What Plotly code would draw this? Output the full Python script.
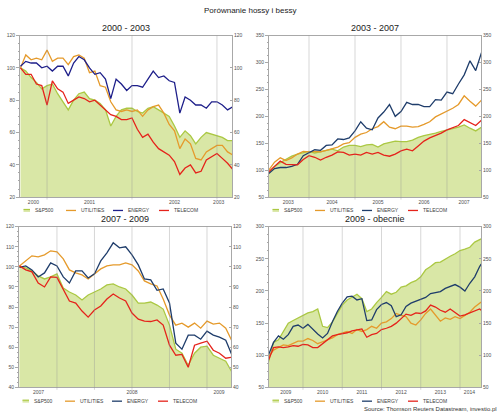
import plotly.graph_objects as go

W, H = 500, 416

MAIN_TITLE = "Porównanie hossy i bessy"
SOURCE = "Source: Thomson Reuters Datastream, investio.pl"
SERIES = ["S&P500", "UTILITIES", "ENERGY", "TELECOM"]

# ---------------- Panel 1: 2000 - 2003 ----------------
p1_title = "2000 - 2003"
p1_x = [2000.688, 2000.750, 2000.813, 2000.875, 2000.938, 2001.000, 2001.063, 2001.125,
        2001.188, 2001.250, 2001.313, 2001.375, 2001.438, 2001.500, 2001.563, 2001.625,
        2001.688, 2001.750, 2001.813, 2001.875, 2001.938, 2002.000, 2002.063, 2002.125,
        2002.188, 2002.250, 2002.313, 2002.375, 2002.438, 2002.500, 2002.563, 2002.625,
        2002.688, 2002.750, 2002.813, 2002.875, 2002.938, 2003.000, 2003.063, 2003.125,
        2003.188]
p1_sp500 = [100, 98, 94, 91, 87, 89, 90, 84, 79, 74, 80, 84, 85, 81, 80, 78, 74, 64, 70, 74,
            75, 75, 73, 72, 75, 76, 74, 72, 70, 64, 57, 61, 58, 53, 57, 60, 59, 58, 57, 55, 55]
p1_utilities = [100, 108, 105, 106, 105, 111, 104, 106, 106, 102, 107, 108, 106, 97, 98, 89,
                88, 79, 74, 73, 74, 73, 74, 70, 74, 76, 77, 72, 65, 61, 50, 56, 53, 44, 43, 48,
                50, 52, 52, 48, 46]
p1_energy = [101, 104, 103, 103, 100, 101, 98, 101, 101, 95, 103, 107, 105, 100, 96, 97, 93,
             81, 93, 90, 86, 89, 89, 88, 93, 98, 94, 95, 92, 91, 72, 82, 80, 77, 77, 75, 79,
             79, 77, 74, 76]
p1_telecom = [100, 96, 96, 90, 89, 77, 92, 87, 85, 78, 80, 82, 81, 79, 80, 77, 74, 71, 70, 68,
              68, 69, 62, 57, 59, 54, 50, 48, 46, 42, 34, 38, 40, 35, 36, 43, 45, 47, 44, 41, 37]
p1_xrange = [2000.682, 2003.177]
p1_yrange = [20, 120]
p1_ystep = 20
p1_tickvals = [2000.84, 2001.5, 2002.5, 2003.02]
p1_ticktext = ["2000", "2001", "2002", "2003"]
p1_grid = [2001, 2002, 2003]

# ---------------- Panel 2: 2003 - 2007 ----------------
p2_title = "2003 - 2007"
p2_x = [2003.125, 2003.25, 2003.375, 2003.5, 2003.625, 2003.75, 2003.875,
        2004.0, 2004.125, 2004.25, 2004.375, 2004.5, 2004.625, 2004.75, 2004.875,
        2005.0, 2005.125, 2005.25, 2005.375, 2005.5, 2005.625, 2005.75, 2005.875,
        2006.0, 2006.125, 2006.25, 2006.375, 2006.5, 2006.625, 2006.75, 2006.875,
        2007.0, 2007.125, 2007.25, 2007.375, 2007.5, 2007.625, 2007.75]
p2_sp500 = [95, 107, 114, 120, 126, 130, 133, 135, 132, 134, 136, 139, 136, 143, 146, 146, 144,
            147, 148, 143, 149, 152, 154, 153, 153, 156, 161, 164, 166, 169, 172, 174, 177, 180,
            184, 178, 173, 180]
p2_utilities = [100, 115, 123, 118, 123, 130, 135, 134, 135, 134, 137, 140, 143, 149, 151, 161,
                167, 170, 177, 181, 190, 180, 177, 182, 182, 180, 181, 185, 190, 199, 204, 210,
                215, 222, 238, 228, 219, 230]
p2_energy = [94, 103, 105, 105, 107, 111, 127, 133, 138, 137, 146, 147, 158, 157, 160, 173, 190,
             178, 175, 197, 208, 222, 200, 209, 226, 222, 222, 218, 218, 231, 230, 245, 242, 260,
             277, 303, 285, 318]
p2_telecom = [97, 108, 117, 111, 111, 110, 120, 127, 124, 119, 124, 128, 134, 133, 128, 130, 128,
              133, 130, 133, 128, 126, 130, 136, 139, 136, 145, 154, 160, 164, 169, 175, 179, 183,
              194, 189, 183, 193]
p2_xrange = [2003.13, 2007.74]
p2_yrange = [50, 350]
p2_ystep = 50
p2_tickvals = [2003.55, 2004.5, 2005.5, 2006.5, 2007.37]
p2_ticktext = ["2003", "2004", "2005", "2006", "2007"]
p2_grid = [2004, 2005, 2006, 2007]

# ---------------- Panel 3: 2007 - 2009 ----------------
p3_title = "2007 - 2009"
p3_x = [2007.750, 2007.792, 2007.833, 2007.875, 2007.917, 2007.958, 2008.000, 2008.042,
        2008.083, 2008.125, 2008.167, 2008.208, 2008.250, 2008.292, 2008.333, 2008.375,
        2008.417, 2008.458, 2008.500, 2008.542, 2008.583, 2008.625, 2008.667, 2008.708,
        2008.750, 2008.792, 2008.833, 2008.875, 2008.917, 2008.958, 2009.000, 2009.042,
        2009.083, 2009.125, 2009.167]
p3_sp500 = [100, 99.5, 98, 95.5, 94, 95, 96.5, 89.5, 87.5, 86, 83.5, 86, 87.5, 89, 91, 91.5, 90,
            89, 86, 82, 82, 82.5, 81, 79, 71, 59, 57, 51, 57, 60, 60.5, 56, 54.5, 53, 47.5]
p3_utilities = [100.5, 103, 105.5, 105, 106, 108, 107.5, 104, 98.5, 97, 96, 94, 96.5, 99, 100.5,
                101, 101, 102, 101, 98, 93, 91.5, 90.5, 84, 76, 71, 72, 70, 72, 69.5, 73, 71.5,
                72, 69.5, 63]
p3_energy = [99.7, 100.5, 98.5, 95, 97, 102, 100.5, 95, 92, 98, 98, 94.5, 96.5, 103, 107, 112,
             109.5, 110, 106, 101, 94, 93.5, 88.3, 89, 82, 62, 59, 66, 66, 64, 68, 66, 65, 63.5, 56]
p3_telecom = [100.5, 98.5, 97.5, 92, 90, 95, 94.8, 89, 83, 82, 78, 75, 78.5, 80.5, 84, 86.5, 84.5,
              83, 77, 74, 73, 72.8, 73.6, 71, 61, 56, 56.4, 50, 61, 62, 63, 58.5, 57, 54.5, 55]
p3_xrange = [2007.747, 2009.16]
p3_yrange = [40, 120]
p3_ystep = 10
p3_tickvals = [2007.877, 2008.5, 2009.08]
p3_ticktext = ["2007", "2008", "2009"]
p3_grid = [2008, 2008.25, 2008.5, 2008.75, 2009]

# ---------------- Panel 4: 2009 - obecnie ----------------
p4_title = "2009 - obecnie"
p4_x = [2009.125, 2009.25, 2009.375, 2009.5, 2009.625, 2009.75, 2009.875,
        2010.0, 2010.125, 2010.25, 2010.375, 2010.5, 2010.625, 2010.75, 2010.875,
        2011.0, 2011.125, 2011.25, 2011.375, 2011.5, 2011.625, 2011.75, 2011.875,
        2012.0, 2012.125, 2012.25, 2012.375, 2012.5, 2012.625, 2012.75, 2012.875,
        2013.0, 2013.125, 2013.25, 2013.375, 2013.5, 2013.625, 2013.75, 2013.875,
        2014.0, 2014.125, 2014.25, 2014.375, 2014.5, 2014.54]
p4_sp500 = [90, 120, 124, 138, 150, 154, 158, 162, 166, 168, 172, 145, 143, 152, 166, 178, 186,
            191, 195, 188, 168, 172, 182, 190, 199, 195, 198, 206, 208, 213, 216, 222, 233, 238,
            244, 245, 250, 254, 258, 263, 265, 268, 276, 280, 281]
p4_utilities = [98, 108, 112, 116, 115, 119, 122, 122, 126, 123, 118, 121, 124, 127, 132, 134,
                137, 134, 140, 137, 140, 145, 142, 150, 152, 157, 165, 162, 160, 150, 147, 155,
                165, 172, 162, 153, 158, 156, 160, 157, 162, 167, 175, 181, 183]
p4_energy = [101, 120, 130, 125, 132, 145, 147, 142, 148, 140, 133, 127, 134, 152, 168, 181, 191,
             192, 186, 188, 154, 155, 171, 179, 182, 177, 160, 163, 176, 181, 184, 186, 190, 196,
             197, 199, 204, 207, 210, 206, 200, 212, 222, 238, 242]
p4_telecom = [93, 112, 113, 112, 113, 115, 114, 117, 116, 112, 112, 118, 124, 130, 132, 133, 135,
              138, 140, 141, 128, 132, 134, 140, 142, 145, 150, 157, 164, 162, 166, 165, 169, 178,
              175, 170, 167, 172, 166, 161, 163, 166, 170, 172, 170]
p4_xrange = [2009.134, 2014.535]
p4_yrange = [50, 300]
p4_ystep = 50
p4_tickvals = [2009.56, 2010.5, 2011.5, 2012.5, 2013.5, 2014.24]
p4_ticktext = ["2009", "2010", "2011", "2012", "2013", "2014"]
p4_grid = [2010, 2011, 2012, 2013, 2014]

# ---------------- styling ----------------
FONT = "Liberation Sans, Arial, sans-serif"
SP_LINE = "#abc843"
SP_FILL = "#d9e7a6"
UTIL_C = "#e59a2b"
TEL_C = "#e5231b"
ENERGY_TL = "#1e1f8a"
ENERGY_OTHER = "#1f3d6b"
AXIS_C = "#a8a8a8"
TICK_FONT = dict(family=FONT, size=5, color="#505050")

panels = [
    dict(title=p1_title, x=p1_x, ys=[p1_sp500, p1_utilities, p1_energy, p1_telecom],
         xr=p1_xrange, yr=p1_yrange, ystep=p1_ystep, tv=p1_tickvals, tt=p1_ticktext,
         grid=p1_grid, ecol=ENERGY_TL, box=(20, 232, 33, 197), legy=210.5),
    dict(title=p2_title, x=p2_x, ys=[p2_sp500, p2_utilities, p2_energy, p2_telecom],
         xr=p2_xrange, yr=p2_yrange, ystep=p2_ystep, tv=p2_tickvals, tt=p2_ticktext,
         grid=p2_grid, ecol=ENERGY_OTHER, box=(269, 481, 33, 197), legy=210.5),
    dict(title=p3_title, x=p3_x, ys=[p3_sp500, p3_utilities, p3_energy, p3_telecom],
         xr=p3_xrange, yr=p3_yrange, ystep=p3_ystep, tv=p3_tickvals, tt=p3_ticktext,
         grid=p3_grid, ecol=ENERGY_OTHER, box=(19, 231, 227, 390), legy=404),
    dict(title=p4_title, x=p4_x, ys=[p4_sp500, p4_utilities, p4_energy, p4_telecom],
         xr=p4_xrange, yr=p4_yrange, ystep=p4_ystep, tv=p4_tickvals, tt=p4_ticktext,
         grid=p4_grid, ecol=ENERGY_OTHER, box=(269, 481, 227, 390), legy=404),
]


def pxx(v):
    return v / W


def pxy(v):
    return 1 - v / H


fig = go.Figure()
layout = dict(
    width=W, height=H, margin=dict(l=0, r=0, t=0, b=0),
    paper_bgcolor="white", plot_bgcolor="white", showlegend=False,
    font=dict(family=FONT, color="#333"),
)
shapes = []
annotations = []

for k, p in enumerate(panels, start=1):
    xa = "x" if k == 1 else f"x{k}"
    ya = "y" if k == 1 else f"y{k}"
    yr_name = f"y{k + 4}"
    xkey = "xaxis" if k == 1 else f"xaxis{k}"
    ykey = "yaxis" if k == 1 else f"yaxis{k}"
    yrkey = f"yaxis{k + 4}"
    x0, x1, yt, yb = p["box"]
    colors = [SP_LINE, UTIL_C, p["ecol"], TEL_C]

    sp, ut, en, te = p["ys"]
    fig.add_trace(go.Scatter(x=p["x"], y=sp, xaxis=xa, yaxis=ya, mode="lines",
                             line=dict(color=SP_LINE, width=1.3), fill="tozeroy",
                             fillcolor=SP_FILL, name=SERIES[0], hoverinfo="skip"))
    for name, vals, col in zip(SERIES[1:], [ut, en, te], colors[1:]):
        fig.add_trace(go.Scatter(x=p["x"], y=vals, xaxis=xa, yaxis=ya, mode="lines",
                                 line=dict(color=col, width=1.3), name=name, hoverinfo="skip"))
    # invisible trace that carries the right-hand axis
    fig.add_trace(go.Scatter(x=p["x"], y=sp, xaxis=xa, yaxis=yr_name, mode="lines",
                             line=dict(width=0), opacity=0, hoverinfo="skip", showlegend=False))

    layout[xkey] = dict(
        domain=[pxx(x0), pxx(x1)], anchor=ya, range=p["xr"],
        tickmode="array", tickvals=p["tv"], ticktext=p["tt"], ticks="",
        showgrid=False, zeroline=False, showline=True, linecolor=AXIS_C, linewidth=1,
        mirror=True, tickfont=TICK_FONT, fixedrange=True,
    )
    yaxis_common = dict(
        domain=[pxy(yb), pxy(yt)], range=p["yr"], dtick=p["ystep"], tick0=0,
        showgrid=False, zeroline=False, showline=True, linecolor=AXIS_C, linewidth=1,
        tickcolor=AXIS_C, tickfont=TICK_FONT, fixedrange=True,
    )
    layout[ykey] = dict(anchor=xa, side="left", ticks="outside", ticklen=3,
                        minor=dict(ticks="outside", ticklen=1.5, dtick=p["ystep"] / 4,
                                   tickcolor=AXIS_C),
                        **yaxis_common)
    layout[yrkey] = dict(anchor=xa, side="right", overlaying=ya, ticks="inside", ticklen=2,
                         **yaxis_common)

    # vertical grid lines at period boundaries
    for g in p["grid"]:
        shapes.append(dict(type="line", xref=xa, yref=f"{ya} domain", x0=g, x1=g,
                           y0=-0.015, y1=1, layer="above",
                           line=dict(color="rgba(150,150,150,0.38)", width=1)))

    # panel title
    annotations.append(dict(text=p["title"], x=pxx((x0 + x1) / 2), y=pxy(yt - 7.5),
                            xref="paper", yref="paper", showarrow=False,
                            xanchor="center", yanchor="middle",
                            font=dict(family=FONT, size=9, color="#222")))

    # manual legend
    ly = pxy(p["legy"])
    leg_items = [(3.5, 10, 13), (46, 56, 58.5), (93, 103, 105.5), (139, 149, 151.5)]
    for (s0, s1, tx), name, col in zip(leg_items, SERIES, colors):
        if name == "S&P500":
            shapes.append(dict(type="rect", xref="paper", yref="paper",
                               x0=pxx(x0 + s0), x1=pxx(x0 + s1),
                               y0=pxy(p["legy"] + 1.5), y1=pxy(p["legy"] - 1),
                               fillcolor=SP_FILL, line=dict(width=0)))
            shapes.append(dict(type="line", xref="paper", yref="paper",
                               x0=pxx(x0 + s0), x1=pxx(x0 + s1), y0=pxy(p["legy"] - 1),
                               y1=pxy(p["legy"] - 1), line=dict(color=SP_LINE, width=1.2)))
        else:
            shapes.append(dict(type="line", xref="paper", yref="paper",
                               x0=pxx(x0 + s0), x1=pxx(x0 + s1), y0=ly, y1=ly,
                               line=dict(color=col, width=1.3)))
        annotations.append(dict(text=name, x=pxx(x0 + tx), y=ly, xref="paper", yref="paper",
                                showarrow=False, xanchor="left", yanchor="middle",
                                font=dict(family=FONT, size=5, color="#404040")))

annotations.append(dict(text=MAIN_TITLE, x=0.5, y=pxy(7.5), xref="paper", yref="paper",
                        showarrow=False, xanchor="center", yanchor="middle",
                        font=dict(family=FONT, size=8, color="#222")))
annotations.append(dict(text=SOURCE, x=pxx(499), y=pxy(411.5), xref="paper", yref="paper",
                        showarrow=False, xanchor="right", yanchor="middle",
                        font=dict(family=FONT, size=6, color="#333")))

layout["shapes"] = shapes
layout["annotations"] = annotations
fig.update_layout(**layout)
fig.write_html("out.html", config={"displayModeBar": False, "staticPlot": True},
               post_script="document.body.style.margin='0';")
